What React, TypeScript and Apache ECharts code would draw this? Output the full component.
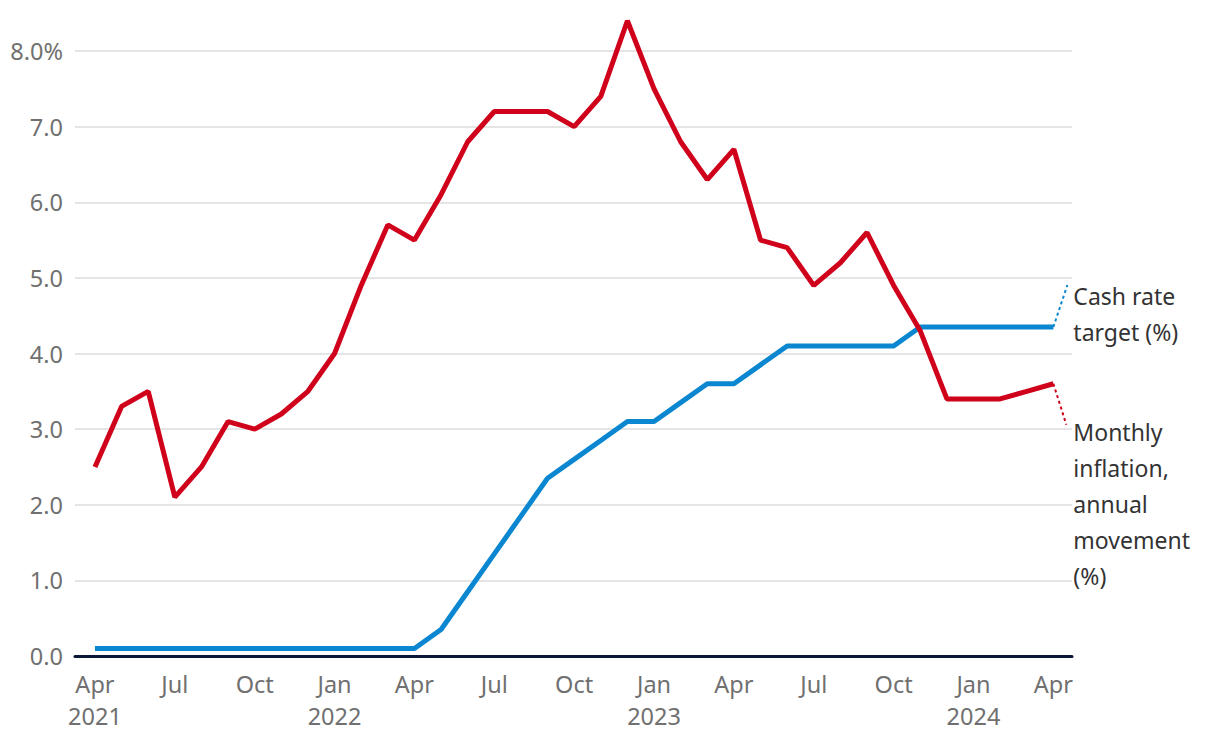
import React, { useEffect, useRef } from "react";
import * as echarts from "echarts";

const months = [
  "Apr 2021","May 2021","Jun 2021","Jul 2021","Aug 2021","Sep 2021","Oct 2021","Nov 2021","Dec 2021",
  "Jan 2022","Feb 2022","Mar 2022","Apr 2022","May 2022","Jun 2022","Jul 2022","Aug 2022","Sep 2022","Oct 2022","Nov 2022","Dec 2022",
  "Jan 2023","Feb 2023","Mar 2023","Apr 2023","May 2023","Jun 2023","Jul 2023","Aug 2023","Sep 2023","Oct 2023","Nov 2023","Dec 2023",
  "Jan 2024","Feb 2024","Mar 2024","Apr 2024",
];

const inflation = [
  2.5, 3.3, 3.5, 2.1, 2.5, 3.1, 3.0, 3.2, 3.5,
  4.0, 4.9, 5.7, 5.5, 6.1, 6.8, 7.2, 7.2, 7.2, 7.0, 7.4, 8.4,
  7.5, 6.8, 6.3, 6.7, 5.5, 5.4, 4.9, 5.2, 5.6, 4.9, 4.3, 3.4,
  3.4, 3.4, 3.5, 3.6,
];

const cashRate = [
  0.1, 0.1, 0.1, 0.1, 0.1, 0.1, 0.1, 0.1, 0.1,
  0.1, 0.1, 0.1, 0.1, 0.35, 0.85, 1.35, 1.85, 2.35, 2.6, 2.85, 3.1,
  3.1, 3.35, 3.6, 3.6, 3.85, 4.1, 4.1, 4.1, 4.1, 4.1, 4.35, 4.35,
  4.35, 4.35, 4.35, 4.35,
];

const yTicks = [0, 1, 2, 3, 4, 5, 6, 7, 8];
const cashLabel = "Cash rate\ntarget (%)";
const inflLabel = "Monthly\ninflation,\nannual\nmovement\n(%)";

const RED = "#d0021b";
const BLUE = "#0a87d0";
const FONT = "'Noto Sans', 'Open Sans', sans-serif";

function xLabel(i: number): string {
  const m = months[i];
  if (!m) return "";
  const [mon, yr] = m.split(" ");
  if (i === 0 || mon === "Jan") return mon + "\n" + yr;
  return mon;
}

export default function App() {
  const ref = useRef<HTMLDivElement>(null);
  useEffect(() => {
    if (!ref.current) return;
    const chart = echarts.init(ref.current, undefined, { renderer: "svg" });
    const labelIdx = months.map((_, i) => i).filter((i) => i % 3 === 0);
    chart.setOption({
      animation: false,
      grid: { left: 75, right: 148, top: 51, bottom: 86 },
      xAxis: {
        type: "value",
        min: -0.75,
        max: 36.7,
        axisLine: { show: true, onZero: false, lineStyle: { color: "#0b1736", width: 3 } },
        axisTick: { show: false },
        splitLine: { show: false },
        axisLabel: {
          customValues: labelIdx,
          formatter: (v: number) => xLabel(Math.round(v)),
          color: "#707070",
          fontSize: 23.5,
          lineHeight: 32,
          fontFamily: FONT,
          margin: 12,
          verticalAlign: "top",
        },
      },
      yAxis: {
        type: "value",
        min: 0,
        max: 8,
        interval: 1,
        axisLine: { show: false },
        axisTick: { show: false },
        splitLine: { lineStyle: { color: "#dcdcdc", width: 1.5 } },
        axisLabel: {
          customValues: yTicks,
          formatter: (v: number) => (v === 8 ? v.toFixed(1) + "%" : v.toFixed(1)),
          color: "#707070",
          fontSize: 23.5,
          fontFamily: FONT,
          margin: 12,
        },
      },
      series: [
        {
          type: "line",
          data: cashRate.map((v, i) => [i, v]),
          symbol: "none",
          clip: false,
          lineStyle: { color: BLUE, width: 5 },
          z: 3,
        },
        {
          type: "line",
          data: inflation.map((v, i) => [i, v]),
          symbol: "none",
          clip: false,
          lineStyle: { color: RED, width: 5 },
          z: 4,
        },
      ],
    });

    const last = months.length - 1;
    const cEnd = chart.convertToPixel({ gridIndex: 0 }, [last, cashRate[last]]) as number[];
    const iEnd = chart.convertToPixel({ gridIndex: 0 }, [last, inflation[last]]) as number[];
    chart.setOption({
      graphic: [
        {
          type: "line",
          shape: { x1: cEnd[0], y1: cEnd[1], x2: cEnd[0] + 14, y2: cEnd[1] - 42 },
          style: { stroke: BLUE, lineWidth: 2, lineDash: [3, 3] },
        },
        {
          type: "line",
          shape: { x1: iEnd[0], y1: iEnd[1], x2: iEnd[0] + 13, y2: iEnd[1] + 41 },
          style: { stroke: RED, lineWidth: 2, lineDash: [3, 3] },
        },
        {
          type: "text",
          x: cEnd[0] + 20,
          y: cEnd[1] - 49,
          style: {
            text: cashLabel,
            fill: "#333333",
            fontSize: 23,
            lineHeight: 36,
            fontFamily: FONT,
          },
        },
        {
          type: "text",
          x: iEnd[0] + 20,
          y: iEnd[1] + 30,
          style: {
            text: inflLabel,
            fill: "#333333",
            fontSize: 23,
            lineHeight: 36,
            fontFamily: FONT,
          },
        },
      ],
    });
    return () => chart.dispose();
  }, []);
  return <div ref={ref} style={{ width: 1220, height: 742, margin: -8 }} />;
}
